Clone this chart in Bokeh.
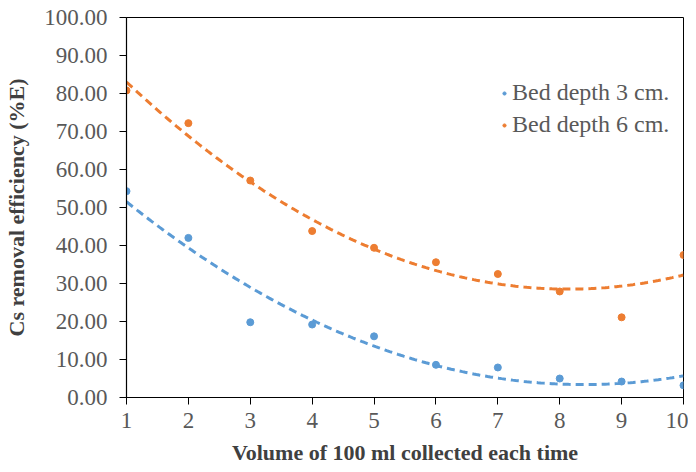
import numpy as np
from bokeh.plotting import figure
from bokeh.models import FixedTicker, NumeralTickFormatter, Legend, LegendItem, Range1d
from bokeh.embed import file_html
from bokeh.resources import INLINE

volume = [1, 2, 3, 4, 5, 6, 7, 8, 9, 10]
bed3 = [54.3, 42.0, 19.8, 19.2, 16.1, 8.6, 7.9, 5.0, 4.2, 3.2]
bed6 = [80.8, 72.2, 57.1, 43.8, 39.4, 35.6, 32.5, 27.9, 21.1, 37.5]
y_ticks = [0, 10, 20, 30, 40, 50, 60, 70, 80, 90, 100]
x_ticks = volume
names = ["Bed depth 3 cm.", "Bed depth 6 cm."]
colors = ["#5B9BD5", "#ED7D31"]

FONT = "Liberation Serif"

p = figure(width=688, height=464, output_backend="svg", toolbar_location=None,
           x_range=Range1d(1, 10), y_range=Range1d(0, 100),
           frame_width=557, frame_height=380,
           min_border_left=126, min_border_right=5, min_border_top=17, min_border_bottom=0)
p.xgrid.visible = False
p.ygrid.visible = False
p.outline_line_color = "black"
p.outline_line_width = 1
p.background_fill_color = "white"
p.border_fill_color = "white"

for ax in (p.xaxis[0], p.yaxis[0]):
    ax.axis_line_color = "black"
    ax.axis_line_width = 1.2
    ax.major_tick_line_color = "black"
    ax.major_tick_out = 7
    ax.major_tick_in = 0
    ax.minor_tick_line_color = None
    ax.major_label_text_font = FONT
    ax.major_label_text_font_size = "23px"
    ax.major_label_text_color = "#595959"
    ax.axis_label_text_font = FONT
    ax.axis_label_text_font_style = "bold"
    ax.axis_label_text_color = "#404040"
    ax.axis_label_text_font_size = "22px"

p.xaxis.ticker = FixedTicker(ticks=x_ticks)
p.yaxis.ticker = FixedTicker(ticks=y_ticks)
p.yaxis.formatter = NumeralTickFormatter(format="0.00")
p.xaxis.axis_label = "Volume of 100 ml collected each time"
p.yaxis.axis_label = "Cs removal efficiency (%E)"
p.xaxis.major_label_standoff = 8
p.yaxis.major_label_standoff = 12
p.xaxis.axis_label_standoff = 9
p.yaxis.axis_label_standoff = 12

xs = np.array(volume, dtype=float)
xfit = np.linspace(1, 10, 200)
items = []
for ys, c, n in zip([bed3, bed6], colors, names):
    coef = np.polyfit(xs, np.array(ys), 2)
    p.line(xfit, np.polyval(coef, xfit), line_color=c, line_width=3, line_dash="8 5")
    r = p.scatter(volume, ys, size=7, fill_color=c, line_color=c)
    items.append(LegendItem(label=n, renderers=[r]))

legend = Legend(items=items, location=(374, 259))
legend.border_line_color = None
legend.background_fill_alpha = 0
legend.label_text_font = FONT
legend.label_text_font_size = "24px"
legend.label_text_color = "#595959"
legend.glyph_width = 8
legend.glyph_height = 20
legend.label_standoff = 4
legend.spacing = 5
legend.padding = 4
p.add_layout(legend)

open("out.html", "w").write(file_html(p, INLINE))
